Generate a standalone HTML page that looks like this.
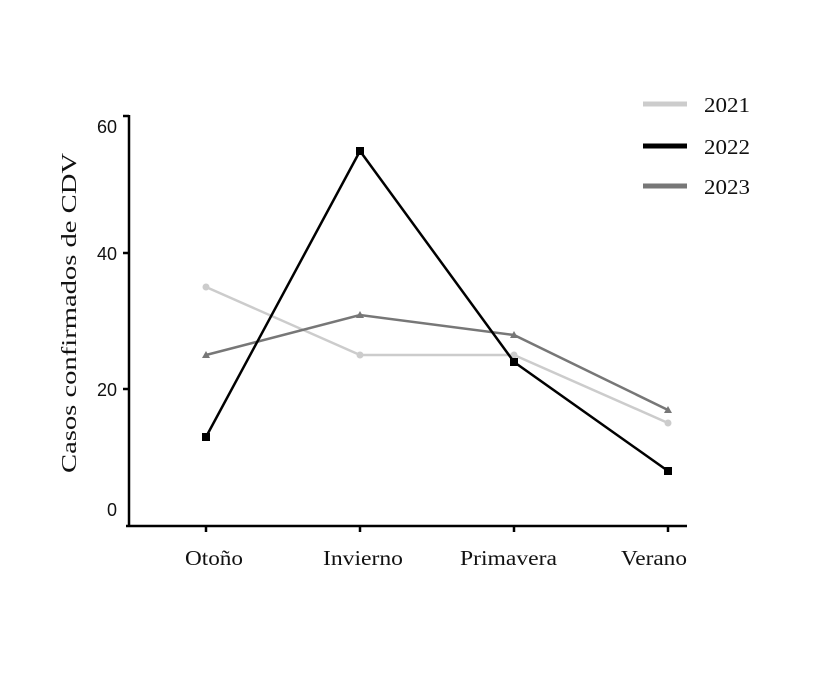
<!DOCTYPE html>
<html><head><style>body{margin:0;background:#fff}</style></head><body>
<svg width="820" height="684" xmlns="http://www.w3.org/2000/svg">
<g stroke="#000" stroke-width="2.5" fill="none">
<line x1="129" y1="115" x2="129" y2="527"/>
<line x1="126" y1="526" x2="687" y2="526"/>
<line x1="123" y1="116" x2="129" y2="116"/>
<line x1="123" y1="253" x2="129" y2="253"/>
<line x1="123" y1="389" x2="129" y2="389"/>
<line x1="206" y1="526" x2="206" y2="532"/>
<line x1="360" y1="526" x2="360" y2="532"/>
<line x1="514" y1="526" x2="514" y2="532"/>
<line x1="668" y1="526" x2="668" y2="532"/>
</g>
<g font-family="Liberation Sans, sans-serif" font-size="18" fill="#111" text-anchor="end">
<text x="117" y="133">60</text><text x="117" y="260">40</text><text x="117" y="396">20</text><text x="117" y="516">0</text>
</g>
<g font-family="Liberation Serif, serif" font-size="21" fill="#111" lengthAdjust="spacingAndGlyphs">
<text x="185" y="565" textLength="58" lengthAdjust="spacingAndGlyphs">Otoño</text>
<text x="323" y="565" textLength="80" lengthAdjust="spacingAndGlyphs">Invierno</text>
<text x="460" y="565" textLength="97" lengthAdjust="spacingAndGlyphs">Primavera</text>
<text x="621" y="565" textLength="66" lengthAdjust="spacingAndGlyphs">Verano</text>
<text transform="translate(76,473) rotate(-90)" textLength="320" lengthAdjust="spacingAndGlyphs">Casos confirmados de CDV</text>
</g>
<polyline points="206,287 360,355 514,355 668,423" stroke="#cccccc" stroke-width="2.5" fill="none"/>
<g fill="#cccccc"><circle cx="206" cy="287" r="3.5"/><circle cx="360" cy="355" r="3.5"/><circle cx="514" cy="355" r="3.5"/><circle cx="668" cy="423" r="3.5"/></g>
<polyline points="206,355 360,315 514,335 668,410" stroke="#777" stroke-width="2.5" fill="none"/>
<g fill="#777"><path d="M206,351 l4,7 h-8z"/><path d="M360,311 l4,7 h-8z"/><path d="M514,331 l4,7 h-8z"/><path d="M668,406 l4,7 h-8z"/></g>
<polyline points="206,437 360,151 514,362 668,471" stroke="#000" stroke-width="2.5" fill="none"/>
<g fill="#000"><rect x="202" y="433" width="8" height="8"/><rect x="356" y="147" width="8" height="8"/><rect x="510" y="358" width="8" height="8"/><rect x="664" y="467" width="8" height="8"/></g>
<line x1="643" y1="104" x2="687" y2="104" stroke="#cccccc" stroke-width="5"/>
<line x1="643" y1="146" x2="687" y2="146" stroke="#000" stroke-width="5"/>
<line x1="643" y1="186" x2="687" y2="186" stroke="#777" stroke-width="5"/>
<g font-family="Liberation Serif, serif" font-size="21" fill="#111">
<text x="704" y="112" textLength="46" lengthAdjust="spacingAndGlyphs">2021</text>
<text x="704" y="154" textLength="46" lengthAdjust="spacingAndGlyphs">2022</text>
<text x="704" y="194" textLength="46" lengthAdjust="spacingAndGlyphs">2023</text>
</g>
</svg>
</body></html>
